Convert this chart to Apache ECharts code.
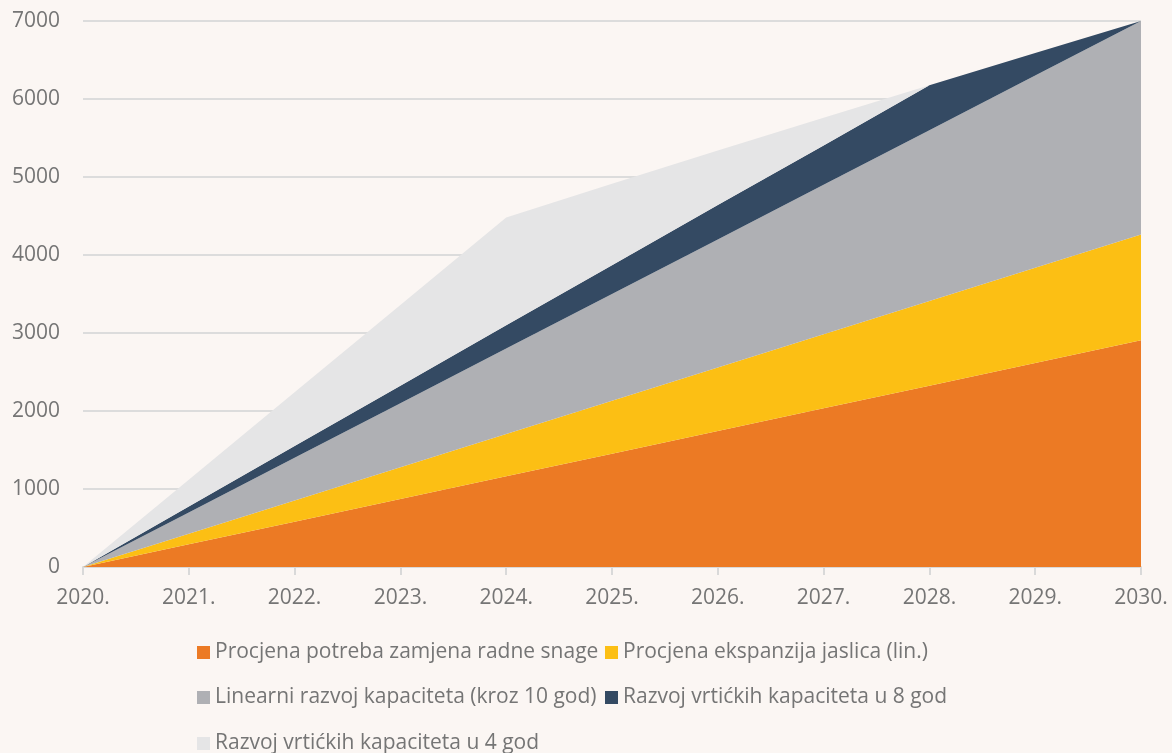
<!DOCTYPE html>
<html>
<head>
<meta charset="utf-8">
<script src="https://cdn.jsdelivr.net/npm/echarts@6/dist/echarts.min.js"></script>
<style>
html,body{margin:0;padding:0;background:#fbf6f3;}
#chart{width:1172px;height:753px;}
</style>
</head>
<body>
<div id="chart"></div>
<script>
const categories = ['2020.','2021.','2022.','2023.','2024.','2025.','2026.','2027.','2028.','2029.','2030.'];
const yTicks = [0,1000,2000,3000,4000,5000,6000,7000];
const seriesNames = [
  'Procjena potreba zamjena radne snage',
  'Procjena ekspanzija jaslica (lin.)',
  'Linearni razvoj kapaciteta (kroz 10 god)',
  'Razvoj vrtićkih kapaciteta u 8 god',
  'Razvoj vrtićkih kapaciteta u 4 god'
];
const zamjena   = [0, 291, 581, 872, 1162, 1453, 1744, 2034, 2325, 2616, 2906];
const jaslice   = [0, 136, 271, 407, 542, 678, 814, 949, 1085, 1220, 1356];
const linearni  = [0, 273, 548, 821, 1096, 1369, 1642, 1917, 2190, 2464, 2738];
const vrtic8    = [0, 75, 150, 225, 300, 370, 440, 505, 575, 290, 0];
const vrtic4    = [0, 345, 690, 1035, 1380, 1045, 700, 355, 0, 0, 0];

const colors = ['#ec7a24', '#fcbf14', '#afb0b4', '#344a63', '#e5e5e6'];
const dataSets = [zamjena, jaslice, linearni, vrtic8, vrtic4];

const chart = echarts.init(document.getElementById('chart'));
const font = '"Open Sans", "Noto Sans", sans-serif';
const labelColor = '#757575';

// legend layout: [left, top] for each series' legend entry
const legendPos = [[197, 642], [605, 642], [197, 687], [605, 687], [197, 733]];

const legends = seriesNames.map((name, i) => ({
  left: legendPos[i][0],
  top: legendPos[i][1],
  padding: 0,
  icon: 'rect',
  itemWidth: 13,
  itemHeight: 13,
  data: [name],
  textStyle: { color: labelColor, fontSize: 21, fontFamily: font, lineHeight: 20 }
}));

chart.setOption({
  backgroundColor: '#fbf6f3',
  animation: false,
  color: colors,
  grid: { left: 83, right: 31, top: 21, bottom: 186, containLabel: false },
  legend: legends,
  xAxis: {
    type: 'category',
    boundaryGap: false,
    data: categories,
    axisLine: { lineStyle: { color: '#d9d9d9', width: 2 } },
    axisTick: { show: true, length: 8, lineStyle: { color: '#d9d9d9', width: 2 } },
    axisLabel: { color: labelColor, fontSize: 21, fontFamily: font, margin: 21 }
  },
  yAxis: {
    type: 'value',
    min: yTicks[0],
    max: yTicks[yTicks.length - 1],
    interval: 1000,
    axisLine: { show: false },
    axisTick: { show: false },
    axisLabel: { color: labelColor, fontSize: 21, fontFamily: font, margin: 23, formatter: v => String(v) },
    splitLine: { lineStyle: { color: '#dcdcdc', width: 2 } }
  },
  series: seriesNames.map((name, i) => ({
    name: name,
    type: 'line',
    stack: 'total',
    data: dataSets[i],
    symbol: 'none',
    lineStyle: { width: 0 },
    areaStyle: { color: colors[i], opacity: 1 },
    itemStyle: { color: colors[i] }
  }))
});
</script>
</body>
</html>
